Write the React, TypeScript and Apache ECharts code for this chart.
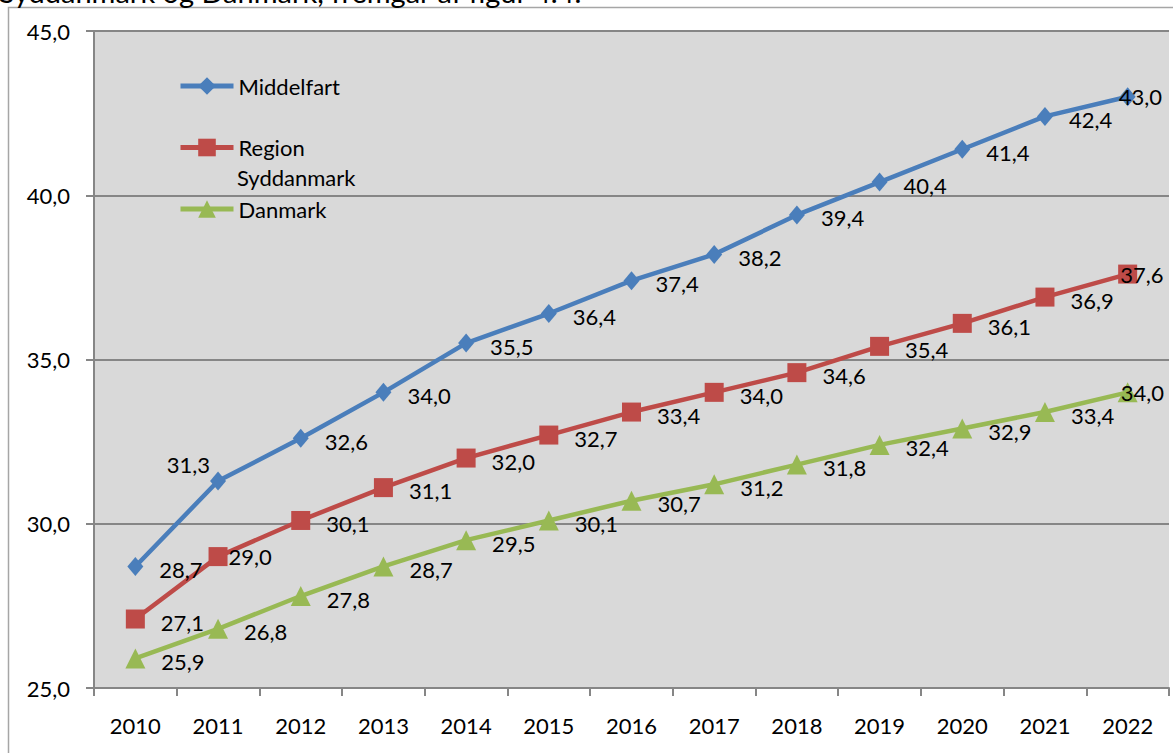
import React, { useEffect, useRef } from "react";
import * as echarts from "echarts";

const years = ["2010", "2011", "2012", "2013", "2014", "2015", "2016", "2017", "2018", "2019", "2020", "2021", "2022"];
const middelfart = [28.7, 31.3, 32.6, 34.0, 35.5, 36.4, 37.4, 38.2, 39.4, 40.4, 41.4, 42.4, 43.0];
const regionSyd = [27.1, 29.0, 30.1, 31.1, 32.0, 32.7, 33.4, 34.0, 34.6, 35.4, 36.1, 36.9, 37.6];
const danmark = [25.9, 26.8, 27.8, 28.7, 29.5, 30.1, 30.7, 31.2, 31.8, 32.4, 32.9, 33.4, 34.0];
const seriesNames = ["Middelfart", "Region Syddanmark", "Danmark"];
const captionText = "Syddanmark og Danmark, fremgår af figur 4.4.";

const FONT = "Lato, 'Open Sans', sans-serif";
const fmt = (v: number) => v.toFixed(1).replace(".", ",");

function App() {
  const ref = useRef<HTMLDivElement>(null);
  useEffect(() => {
    if (!ref.current) return;
    const chart = echarts.init(ref.current, undefined, { renderer: "svg" });
    const baseLabel = {
      show: true,
      position: "right",
      distance: 16,
      offset: [0, 3],
      color: "#000",
      fontFamily: FONT,
      fontSize: 22,
      formatter: (p: any) => fmt(p.value),
    };
    const mkData = (arr: number[], special: Record<number, any>) =>
      arr.map((v, i) => (special[i] ? { value: v, label: special[i] } : v));
    const lastLbl = { position: "right", offset: [-33, 0] };
    const option: any = {
      animation: false,
      backgroundColor: "#ffffff",
      grid: { left: 94, top: 31, right: 4, bottom: 65, show: true, backgroundColor: "#d9d9d9", borderWidth: 0 },
      legend: {
        orient: "vertical",
        left: 178,
        top: 72,
        padding: 0,
        itemWidth: 53,
        itemHeight: 22,
        itemGap: 33.5,
        data: seriesNames,
        lineStyle: { width: 5 },
        formatter: (n: string) => (n === "Region Syddanmark" ? "Region" : n),
        textStyle: { fontFamily: FONT, fontSize: 22, color: "#000", lineHeight: 28 },
      },
      graphic: [
        {
          type: "rect",
          shape: { x: 8.5, y: 7.5, width: 1200, height: 800 },
          style: { fill: "none", stroke: "#a6a6a6", lineWidth: 1.5 },
          silent: true,
        },
        {
          type: "text",
          left: 237,
          top: 166,
          style: { text: "Syddanmark", fontFamily: FONT, fontSize: 22, fill: "#000" },
        },
        {
          type: "text",
          x: -1,
          y: 6,
          style: { text: captionText, fontFamily: FONT, fontSize: 29, fill: "#000", textVerticalAlign: "bottom" },
        },
      ],
      xAxis: {
        type: "category",
        data: years,
        boundaryGap: true,
        axisLine: { lineStyle: { color: "#868686", width: 2 } },
        axisTick: { show: true, length: 8, lineStyle: { color: "#868686", width: 2 } },
        axisLabel: { color: "#000", fontFamily: FONT, fontSize: 22, margin: 26 },
        splitLine: { show: false },
      },
      yAxis: {
        type: "value",
        min: 25,
        max: 45,
        interval: 5,
        axisLine: { show: true, lineStyle: { color: "#868686", width: 2 } },
        axisTick: { show: true, length: 8, lineStyle: { color: "#868686", width: 2 } },
        axisLabel: { color: "#000", fontFamily: FONT, fontSize: 22, margin: 24, formatter: (v: number) => fmt(v) },
        splitLine: { show: true, lineStyle: { color: "#868686", width: 2 } },
      },
      series: [
        {
          name: seriesNames[0],
          type: "line",
          data: mkData(middelfart, { 1: { position: "left", offset: [16, -17] }, 12: lastLbl }),
          symbol: "diamond",
          symbolSize: [16, 19],
          itemStyle: { color: "#4a7ebb" },
          lineStyle: { color: "#4a7ebb", width: 4.5 },
          label: baseLabel,
          z: 3,
        },
        {
          name: seriesNames[1],
          type: "line",
          data: mkData(regionSyd, { 1: { offset: [-15, 0] }, 12: lastLbl }),
          symbol: "rect",
          symbolSize: 19,
          itemStyle: { color: "#be4b48" },
          lineStyle: { color: "#be4b48", width: 4.5 },
          label: baseLabel,
          z: 3,
        },
        {
          name: seriesNames[2],
          type: "line",
          data: mkData(danmark, { 12: lastLbl }),
          symbol: "triangle",
          symbolSize: 20,
          itemStyle: { color: "#98b954" },
          lineStyle: { color: "#98b954", width: 4.5 },
          label: baseLabel,
          z: 3,
        },
      ],
    };
    chart.setOption(option);
    return () => chart.dispose();
  }, []);
  return <div ref={ref} style={{ position: "fixed", left: 0, top: 0, width: 1173, height: 753 }} />;
}

export default App;
